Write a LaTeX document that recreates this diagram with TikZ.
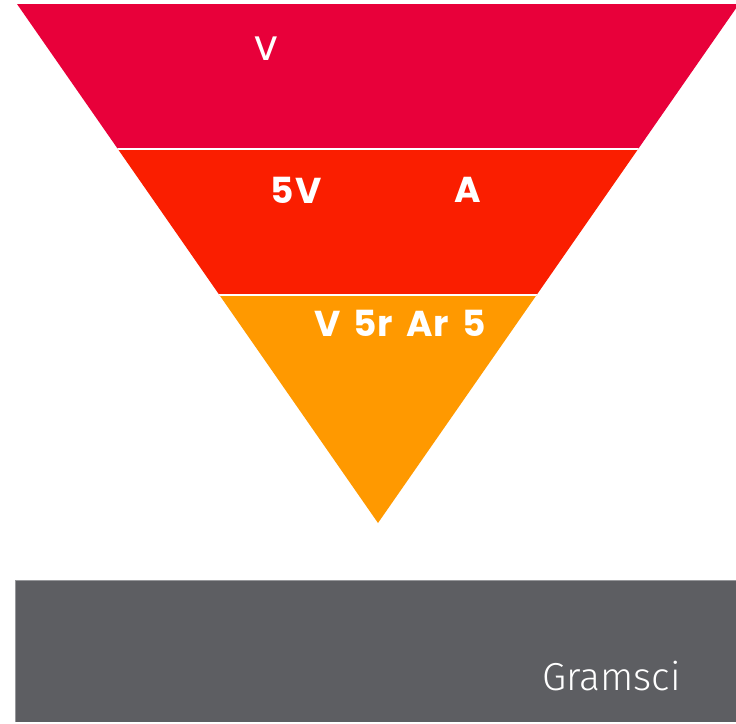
\documentclass[tikz,border=0pt]{standalone}
\usepackage{fontspec}
\setmainfont{Poppins}
\newfontfamily\widefont{Poppins}[LetterSpace=3, WordSpace=1.5]
\newfontfamily\medfont{Poppins}[UprightFont=* Medium]
\newfontfamily\lightfont{Fira Sans Light}
\definecolor{bandtop}{RGB}{232,0,58}
\definecolor{bandmid}{RGB}{250,30,0}
\definecolor{bandlow}{RGB}{255,153,0}
\definecolor{barfill}{RGB}{93,94,98}
\definecolor{baredge}{RGB}{150,151,154}
\tikzset{
  bandlabel/.style={text=white, inner sep=0pt, font=\widefont\fontsize{36}{40}\selectfont\bfseries},
  toplabel/.style={text=white, inner sep=0pt, font=\medfont\fontsize{34}{38}\selectfont},
  barlabel/.style={text=white, inner sep=0pt, font=\lightfont\fontsize{39}{44}\selectfont},
  gap/.style={draw=white, line width=2pt}
}
\begin{document}
\begin{tikzpicture}[x=1pt, y=-1pt]
  \useasboundingbox (0,0) rectangle (736,723);
  \fill[white] (0,0) rectangle (736,723);
  % funnel outline
  \coordinate (tl) at (17,4);
  \coordinate (tr) at (739,4);
  \coordinate (apex) at (378,523);
  \begin{scope}
    \clip (tl) -- (tr) -- (apex) -- cycle;
    \fill[bandtop] (0,0) rectangle (740,149);
    \fill[bandmid] (0,149) rectangle (740,295);
    \fill[bandlow] (0,295) rectangle (740,530);
    % white separators between the bands
    \draw[gap] (0,149) -- (740,149);
    \draw[gap] (0,295) -- (740,295);
  \end{scope}
  % band labels
  \node[toplabel] (v) at (266,48.5) {V};
  \node[bandlabel] (fivev) at (296,190) {5V};
  \node[bandlabel] (a) at (467.5,190) {A};
  \node[bandlabel] (row) at (400,323.5) {V 5r Ar 5};
  % footer bar
  \fill[barfill] (15,580) rectangle (740,722);
  \draw[baredge, line width=1pt] (15.5,722) -- (15.5,580.5) -- (740,580.5);
  \node[barlabel] (gramsci) at (611.5,676) {Gramsci};
\end{tikzpicture}
\end{document}
